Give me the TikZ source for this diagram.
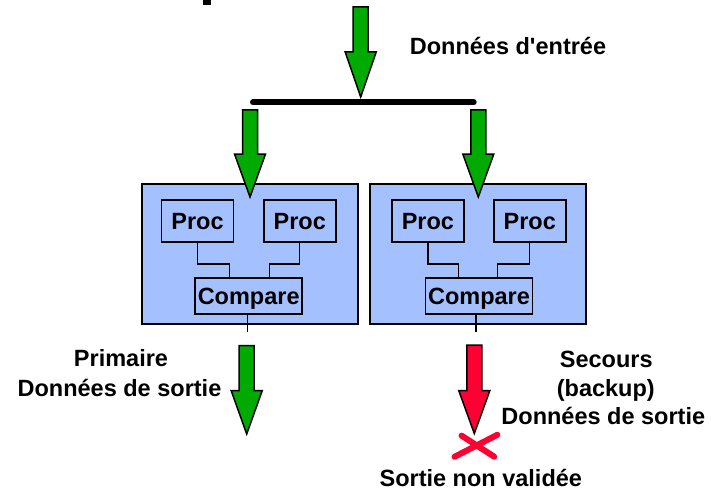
\documentclass[tikz,border=0pt]{standalone}
\usepackage{fontspec}
\setmainfont{Liberation Sans}
\definecolor{arrgreen}{RGB}{0,170,0}
\definecolor{arrred}{RGB}{255,0,51}
\definecolor{boxblue}{RGB}{165,192,255}
\newcommand{\fatarrow}[6]{% name, x, ytop, yhead, ytip, colour
  \filldraw[fill=#6, draw=black, line width=1.5pt, line join=miter]
    (#2-7.5,#3) -- (#2+7.5,#3) -- (#2+7.5,#4) -- (#2+15.5,#4) -- (#2,#5)
    -- (#2-15.5,#4) -- (#2-7.5,#4) -- cycle;
  \coordinate (#1) at (#2,#5);}
\begin{document}
\begin{tikzpicture}[x=1pt,y=-1pt,
  lbl/.style={font=\bfseries\fontsize{23.5}{28}\selectfont, anchor=base, inner sep=0pt},
  outerbox/.style={draw=black, line width=2pt, fill=boxblue, minimum width=216.6pt, minimum height=140pt, inner sep=0pt},
  procbox/.style={draw=black, line width=1.6pt, fill=boxblue, minimum width=72pt, minimum height=41.7pt, inner sep=0pt,
    font=\bfseries\fontsize{23.5}{28}\selectfont, text height=16.8pt, text depth=0pt},
  cmpbox/.style={draw=black, line width=1.6pt, fill=boxblue, minimum width=107pt, minimum height=36.3pt, inner sep=0pt,
    font=\bfseries\fontsize{23.5}{28}\selectfont, text height=16.8pt, text depth=0pt},
  wire/.style={draw=black, line width=1.3pt}]
\useasboundingbox (0,0) rectangle (711,492);
% fragment of cut-off title
\fill[black] (203.3,0) rectangle (211,5.3);
% input
\fatarrow{tipin}{360.7}{7}{52}{97}{arrgreen}
\node[lbl] (in) at (508,54.3) {Données d\textquotesingle entrée};
\coordinate (barL) at (253,102.3);
\coordinate (barR) at (473.7,102.3);
\draw[line width=6pt, line cap=round] (barL) -- (barR);
% boxes
\node[outerbox] (boxL) at (250,254) {};
\node[outerbox] (boxR) at (478,254) {};
\node[procbox] (pL1) at (197.5,220.85) {Proc};
\node[procbox] (pL2) at (299.7,220.85) {Proc};
\node[cmpbox] (cL) at (248.7,295.85) {Compare};
\node[procbox] (pR1) at (427.9,220.85) {Proc};
\node[procbox] (pR2) at (529.7,220.85) {Proc};
\node[cmpbox] (cR) at (479,295.85) {Compare};
\draw[wire] (pL1.south) -- ++(0,21.5) -| ([xshift=-19pt]cL.north);
\draw[wire] (pL2.south) -- ++(0,21.5) -| ([xshift=21pt]cL.north);
\draw[wire] (pR1.south) -- ++(0,21.5) -| ([xshift=-20.7pt]cR.north);
\draw[wire] (pR2.south) -- ++(0,21.5) -| ([xshift=18.7pt]cR.north);
\coordinate (oL) at (247.5,332);
\coordinate (oR) at (476,332);
\draw[wire] (cL.south -| oL) -- (oL);
\draw[wire] (cR.south -| oR) -- (oR);
% arrows into boxes
\fatarrow{tipL}{250}{110}{154}{197}{arrgreen}
\fatarrow{tipR}{478.3}{110}{154}{197}{arrgreen}
% output arrows
\fatarrow{tipOL}{246.7}{345.7}{390.7}{434}{arrgreen}
\fatarrow{tipOR}{474.3}{345}{390.7}{433.5}{arrred}
% cross
\coordinate (xa1) at (454.5,456.8);
\coordinate (xa2) at (497.3,434.8);
\coordinate (xb1) at (461.5,435.6);
\coordinate (xb2) at (494.2,456.7);
\draw[arrred, line width=6pt, line cap=round] (xa1) -- (xa2);
\draw[arrred, line width=6pt, line cap=round] (xb1) -- (xb2);
% labels
\node[lbl] (prim) at (121,366.7) {Primaire};
\node[lbl] (dsL) at (119.5,396.7) {Données de sortie};
\node[lbl] (sec) at (606.3,367) {Secours};
\node[lbl] (bak) at (605.8,396.7) {(backup)};
\node[lbl] (dsR) at (603.3,424) {Données de sortie};
\node[lbl] (nv) at (480.8,486.7) {Sortie non validée};
\end{tikzpicture}
\end{document}
